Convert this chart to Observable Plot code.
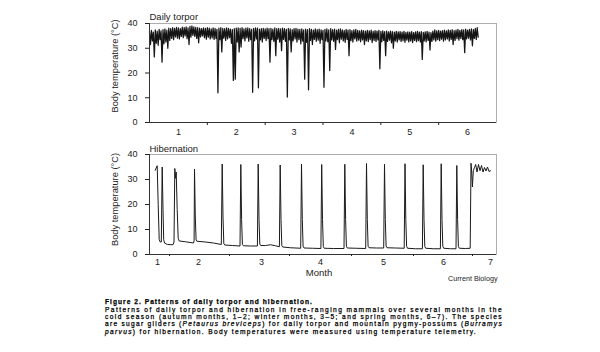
<!DOCTYPE html>
<html><head><meta charset="utf-8">
<script src="https://cdn.jsdelivr.net/npm/d3@7"></script>
<script src="https://cdn.jsdelivr.net/npm/@observablehq/plot@0.6"></script>
<style>
body{margin:0;background:#fff;width:600px;height:352px;overflow:hidden;position:relative;font-family:"Liberation Sans",Arial,Helvetica,sans-serif;}
#top{position:absolute;left:0;top:0}
#bottom{position:absolute;left:0;top:140px}
#caption{position:absolute;left:105px;top:298.3px;font-size:6.6px;line-height:7.4px;color:#000;-webkit-text-stroke:0.25px #000}
#caption div{white-space:nowrap;height:7.4px}
</style></head><body>
<div id="top"></div><div id="bottom"></div>
<div id="caption">
<div data-w="208" style="font-weight:bold">Figure 2. Patterns of daily torpor and hibernation.</div>
<div data-w="398">Patterns of daily torpor and hibernation in free-ranging mammals over several months in the</div>
<div data-w="398">cold season (autumn months, 1–2; winter months, 3–5; and spring months, 6–7). The species</div>
<div data-w="398">are sugar gliders (<i>Petaurus breviceps</i>) for daily torpor and mountain pygmy-possums (<i>Burramys</i></div>
<div data-w="372"><i>parvus</i>) for hibernation. Body temperatures were measured using temperature telemetry.</div>
</div>
<script>
// ---- Daily torpor (sugar glider): daily maximum and minimum body temperature, day 0..170
const torporMax = [
36.8,37.2,36.5,37.4,36.9,37.6,37.0,37.5,37.8,37.3,
38.1,37.9,38.3,38.0,38.4,38.2,37.9,38.5,38.3,38.6,
38.2,38.8,39.0,38.6,38.4,38.3,38.1,37.9,38.2,38.0,
38.3,38.1,37.8,38.2,38.0,37.6,38.1,38.3,38.0,37.9,
38.2,38.0,37.7,37.5,37.9,38.1,38.2,38.0,38.3,37.8,
38.1,38.2,37.9,37.6,38.0,38.2,38.1,37.7,37.9,38.0,
37.8,38.1,37.9,38.0,37.7,38.2,37.9,38.0,37.8,38.1,
37.9,37.6,38.0,37.8,37.5,37.9,38.0,37.7,37.6,37.8,
37.4,37.7,37.5,37.9,37.6,37.3,37.8,37.5,37.7,37.4,
37.2,37.6,37.8,37.4,37.9,37.5,37.7,37.3,37.6,37.8,
37.4,37.2,37.6,37.3,37.5,37.1,37.4,37.6,37.2,37.0,
37.3,37.1,36.9,37.2,37.0,37.3,36.8,37.1,36.9,37.2,
36.8,37.0,36.7,36.9,36.6,36.9,36.7,36.5,36.8,36.6,
36.7,36.5,36.8,36.4,36.6,36.5,36.7,36.3,36.6,36.8,
36.5,36.7,36.4,36.6,36.8,36.5,36.3,36.9,37.4,37.0,
37.2,36.9,37.1,37.3,37.0,37.4,37.2,37.5,37.1,37.3,
37.6,37.2,37.5,37.4,37.7,37.3,37.6,37.8,37.5,38.0,
38.3];
const torporMin = [
31.5,33.0,26.5,32.0,31.2,33.5,24.4,31.8,32.5,30.0,
33.2,34.0,33.5,34.6,34.1,33.8,34.8,34.3,35.0,33.9,
31.5,34.5,35.2,34.8,34.0,32.2,34.6,35.0,34.3,33.7,
34.5,33.8,34.2,33.6,34.0,12.0,33.5,28.5,34.1,33.2,
33.8,34.3,32.0,17.0,17.5,32.5,28.5,30.5,33.9,33.0,
34.2,32.8,33.5,12.2,33.0,33.8,14.0,33.4,32.5,34.0,
33.2,33.9,24.4,33.5,32.8,27.0,33.7,32.5,29.0,33.6,
32.8,10.3,33.4,28.5,33.0,33.8,32.5,33.5,31.8,32.9,
17.5,32.4,13.2,33.2,31.5,33.6,32.8,33.3,32.0,33.5,
14.2,33.0,32.6,21.0,33.4,32.8,29.5,33.5,32.2,33.7,
33.0,32.4,33.6,27.0,33.1,32.5,33.8,32.9,33.3,32.6,
33.4,31.5,33.0,32.7,33.5,32.3,33.2,32.8,33.4,21.7,
32.6,33.2,27.0,32.8,33.3,32.2,30.0,33.0,32.5,33.4,
32.8,33.1,32.4,33.3,32.6,33.0,32.3,33.2,32.7,33.1,
32.5,25.5,33.0,32.6,33.2,29.3,32.8,33.4,32.9,33.5,
33.1,33.7,32.9,33.4,33.8,33.0,33.6,31.5,33.2,33.9,
33.3,34.0,33.5,28.2,33.8,34.1,33.4,31.0,34.0,33.6,
34.5];

// ---- Hibernation (mountain pygmy-possum): day of record and body temperature
const hibDay = [
2.85,3.85,4.35,4.85,5.35,5.9,6.35,6.75,7.1,7.5,9.0,11.75,
12.25,12.65,13.0,13.35,13.85,14.35,14.85,18,22,
22.3,22.5,22.9,23.3,23.7,28,32,35.9,
36.35,36.75,37.15,37.6,41.5,45.25,
45.65,46.05,46.45,46.9,50.5,53.95,
54.35,54.75,55.15,55.6,58,60.5,63,64.95,
65.35,65.75,66.15,66.6,70.5,75.6,
76,76.4,76.8,77.25,81.5,85.7,
86.1,86.5,86.9,87.35,92,97.25,
97.65,98.05,98.45,98.9,103,108.1,
108.5,108.9,109.3,109.75,113.5,117.1,
117.5,117.9,118.3,118.75,123,127.35,
127.75,128.15,128.55,129,133,136.45,
136.85,137.25,137.65,138.1,142,145.45,
145.85,146.25,146.65,147.1,150.5,153.25,
153.65,154.05,154.45,154.9,158,160.35,
160.75,161.1,161.45,161.9,162.5,163.1,163.75,164.5,165.25,166.0,166.75,167.5,168.25,169.0,169.75,170.5];
const hibTemp = [
33.7,35.5,20,6.0,5.0,5.0,35.0,18,6.0,4.6,4.0,3.9,
5.0,34.4,30.5,33.0,18,6.5,5.4,5.1,4.6,
5.5,34.2,15,5.8,5.3,5.0,4.6,4.0,
36.2,15,4.4,3.8,3.6,3.4,
36.0,14,4.0,3.5,3.4,3.4,
36.2,14,4.2,3.6,3.6,3.9,3.5,3.1,
35.8,14,3.6,3.0,2.7,2.5,
36.2,14,3.3,2.6,2.5,2.4,
36.0,14,3.2,2.5,2.4,2.4,
36.1,14,3.3,2.6,2.5,2.4,
36.4,14,3.3,2.7,2.6,2.6,
36.1,14,3.4,2.7,2.6,2.5,
36.3,14,3.3,2.5,2.3,2.3,
35.9,14,3.2,2.5,2.3,2.3,
36.3,14,3.3,2.5,2.3,2.3,
35.6,14,3.2,2.5,2.4,2.5,
36.5,33,27,33.5,34.8,36.0,33.0,36.0,33.5,35.6,33.0,34.8,33.4,35.0,33.2,33.5];

// ---- axes / text
const yTicks = [0, 10, 20, 30, 40];
const topMonthBounds = [30, 60, 90, 120, 150];
const topMonthCentres = [15, 45, 75, 105, 135, 165];
const topMonthLabels = ["1", "2", "3", "4", "5", "6"];
const botTickDays = [10, 40, 70, 101, 132, 161.5];
const botLabelDays = [4, 24.5, 56, 85.5, 117, 147, 170.5];
const botLabels = ["1", "2", "3", "4", "5", "6", "7"];
const topTitle = "Daily torpor";
const botTitle = "Hibernation";
const yTitle = "Body temperature (°C)";
const xTitle = "Month";
const credit = "Current Biology";

const FONT = '"Liberation Sans", Arial, Helvetica, sans-serif';
const torporRows = [];
torporMax.forEach((v, d) => {
  torporRows.push({t: d, v: v});
  torporRows.push({t: d + 0.5, v: torporMin[d]});
});
const hibRows = hibDay.map((d, i) => ({t: d, v: hibTemp[i]}));
const topLabMap = new Map(topMonthCentres.map((c, i) => [c, topMonthLabels[i]]));
const botLabMap = new Map(botLabelDays.map((c, i) => [c, botLabels[i]]));

const topPlot = Plot.plot({
  width: 600, height: 140,
  marginTop: 23, marginBottom: 18, marginLeft: 149, marginRight: 104,
  x: {domain: [0, 180]}, y: {domain: [0, 40]},
  style: {fontFamily: FONT, fontSize: "9px", color: "#222", background: "transparent"},
  marks: [
    Plot.frame({stroke: "#999", strokeWidth: 0.8}),
    Plot.line(torporRows, {x: "t", y: "v", stroke: "#151515", strokeWidth: 1.25}),
    Plot.ruleX([0], {stroke: "#333"}),
    Plot.ruleY([0], {stroke: "#333"}),
    Plot.axisY({ticks: yTicks, tickSize: 4, tickPadding: 8, label: null}),
    Plot.axisX({ticks: topMonthBounds, tickSize: 3, tickFormat: () => "", label: null}),
    Plot.axisX({ticks: topMonthCentres, tickSize: 0, tickPadding: 6, tickFormat: d => topLabMap.get(d), label: null}),
    Plot.text([topTitle], {text: d => d, frameAnchor: "top-left", textAnchor: "start", lineAnchor: "bottom", dy: -3.5, fontSize: 9.5}),
    Plot.text([yTitle], {text: d => d, frameAnchor: "left", textAnchor: "middle", rotate: -90, dx: -34, dy: -7, fontSize: 9.3})
  ]
});
document.getElementById("top").appendChild(topPlot);

const botPlot = Plot.plot({
  width: 600, height: 148,
  marginTop: 14, marginBottom: 34, marginLeft: 149, marginRight: 104,
  x: {domain: [0, 173.5]}, y: {domain: [0, 40]},
  style: {fontFamily: FONT, fontSize: "9px", color: "#222", background: "transparent"},
  marks: [
    Plot.frame({stroke: "#999", strokeWidth: 0.8}),
    Plot.line(hibRows, {x: "t", y: "v", stroke: "#1a1a1a", strokeWidth: 1}),
    Plot.ruleX([0], {stroke: "#333"}),
    Plot.ruleY([0], {stroke: "#333"}),
    Plot.axisY({ticks: yTicks, tickSize: 4, tickPadding: 8, label: null}),
    Plot.axisX({ticks: botTickDays, tickSize: 2, tickFormat: () => "", label: null}),
    Plot.axisX({ticks: botLabelDays, tickSize: 0, tickPadding: 4, tickFormat: d => botLabMap.get(d), label: null}),
    Plot.text([botTitle], {text: d => d, frameAnchor: "top-left", textAnchor: "start", lineAnchor: "bottom", dy: -2.5, fontSize: 9.5}),
    Plot.text([yTitle], {text: d => d, frameAnchor: "left", textAnchor: "middle", rotate: -90, dx: -34, dy: -5, fontSize: 9.3}),
    Plot.text([xTitle], {text: d => d, frameAnchor: "bottom", dx: -4, dy: 21, fontSize: 9.5}),
    Plot.text([credit], {text: d => d, frameAnchor: "bottom-right", textAnchor: "end", dy: 26.5, dx: 1, fontSize: 7.2})
  ]
});
document.getElementById("bottom").appendChild(botPlot);

// fit caption lines to their measured widths
document.querySelectorAll("#caption div").forEach(el => {
  const target = +el.dataset.w;
  el.style.display = "inline-block";
  const w = el.getBoundingClientRect().width;
  const n = el.textContent.length;
  el.style.letterSpacing = ((target - w) / n) + "px";
  el.style.display = "block";
});
</script>
</body></html>
